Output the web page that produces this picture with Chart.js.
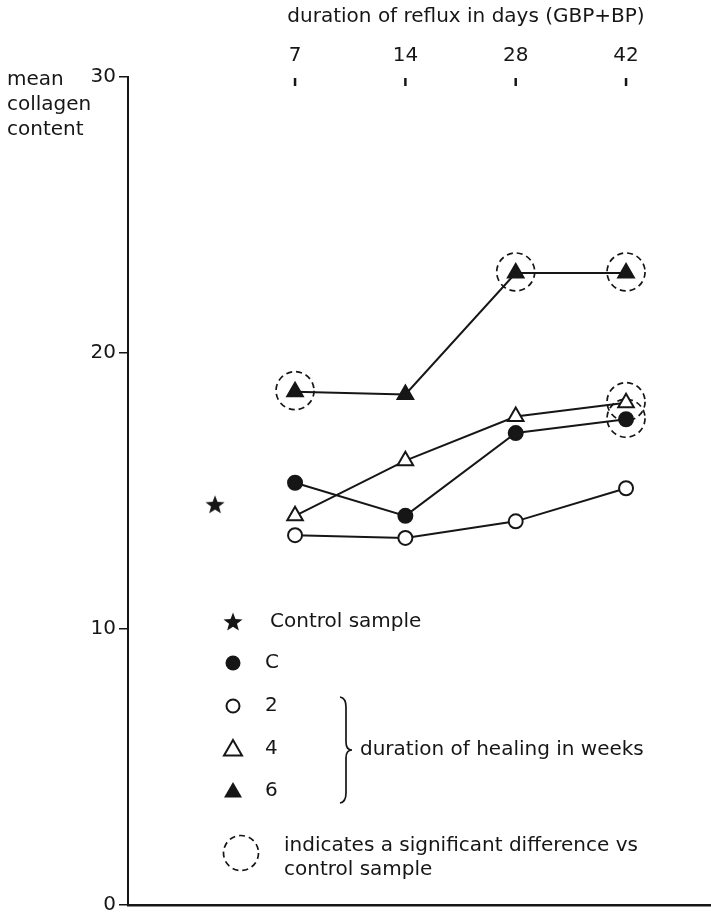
<!DOCTYPE html>
<html>
<head>
<meta charset="utf-8">
<script src="https://cdn.jsdelivr.net/npm/chart.js@4/dist/chart.umd.min.js"></script>
<style>
  html, body { margin: 0; padding: 0; background: #fff; }
  #wrap { width: 711px; height: 921px; }
</style>
</head>
<body>
<div id="wrap"><canvas id="collagenChart" width="711" height="921"></canvas></div>
<script>
// reflux duration (days) and where each sits on the x scale
const refluxDays = ['7', '14', '28', '42'];
const refluxPos = [1, 2, 3, 4];
const controlPos = 0.275;
const controlValue = 14.5;

// mean collagen content per healing group
const healingC = [15.3, 14.1, 17.1, 17.6];
const healing2 = [13.4, 13.3, 13.9, 15.1];
const healing4 = [14.1, 16.1, 17.7, 18.2];
const healing6 = [18.6, 18.5, 22.9, 22.9];

const yTicks = [0, 10, 20, 30];

// significant difference vs control: [series, index]
const significant = [['6', 0], ['6', 2], ['6', 3], ['4', 3], ['C', 3]];

const seriesByName = { C: healingC, '2': healing2, '4': healing4, '6': healing6 };

const FONT = '"DejaVu Sans", sans-serif';
const FSIZE = 20;
const INK = '#161616';

// little filled star for the control sample
const starImg = (() => {
    const c = document.createElement('canvas');
    c.width = 22; c.height = 22;
    const g = c.getContext('2d');
    g.fillStyle = INK;
    g.beginPath();
    for (let i = 0; i < 10; i++) {
        const r = i % 2 === 0 ? 10 : 4.2;
        const a = -Math.PI / 2 + i * Math.PI / 5;
        g.lineTo(11 + r * Math.cos(a), 11.5 + r * Math.sin(a));
    }
    g.closePath();
    g.fill();
    return c;
})();

const toPoints = arr => arr.map((v, i) => ({ x: refluxPos[i], y: v }));

const drawMarker = (ctx, kind, x, y) => {
    ctx.save();
    ctx.lineWidth = 2;
    ctx.strokeStyle = INK;
    ctx.fillStyle = INK;
    if (kind === 'star') {
        ctx.drawImage(starImg, x - 11, y - 11);
    } else if (kind === 'dot' || kind === 'ring') {
        ctx.beginPath();
        ctx.arc(x, y, kind === 'dot' ? 7.5 : 6.5, 0, Math.PI * 2);
        if (kind === 'dot') ctx.fill(); else { ctx.fillStyle = '#fff'; ctx.fill(); ctx.stroke(); }
    } else {
        ctx.beginPath();
        ctx.moveTo(x, y - 9);
        ctx.lineTo(x + 9, y + 6.5);
        ctx.lineTo(x - 9, y + 6.5);
        ctx.closePath();
        if (kind === 'tri') ctx.fill(); else { ctx.fillStyle = '#fff'; ctx.fill(); ctx.stroke(); }
    }
    ctx.restore();
};

const decorations = {
    id: 'decorations',
    beforeDatasetsDraw(chart) {
        const { ctx, scales: { x, y } } = chart;
        // dashed rings for significant points
        ctx.save();
        ctx.setLineDash([6, 4]);
        ctx.lineWidth = 1.7;
        ctx.strokeStyle = INK;
        significant.forEach(([name, i]) => {
            const px = x.getPixelForValue(refluxPos[i]);
            const py = y.getPixelForValue(seriesByName[name][i]);
            ctx.beginPath();
            ctx.arc(px, py - 1, 19, 0, Math.PI * 2);
            ctx.stroke();
        });
        ctx.restore();
    },
    afterDraw(chart) {
        const { ctx, scales: { x } } = chart;
        ctx.save();
        ctx.fillStyle = INK;
        ctx.strokeStyle = INK;
        ctx.font = FSIZE + 'px ' + FONT;
        ctx.textBaseline = 'middle';

        // top axis: reflux duration
        ctx.textAlign = 'center';
        ctx.fillText('duration of reflux in days (GBP+BP)', 466, 17);
        ctx.lineWidth = 2.5;
        refluxDays.forEach((lab, i) => {
            const px = x.getPixelForValue(refluxPos[i]);
            ctx.fillText(lab, px, 56);
            ctx.beginPath();
            ctx.moveTo(px, 78);
            ctx.lineTo(px, 86);
            ctx.stroke();
        });

        // y title
        ctx.textAlign = 'left';
        ['mean', 'collagen', 'content'].forEach((t, i) => ctx.fillText(t, 7, 80 + i * 25));

        // legend
        const rows = [
            ['star', 'Control sample', 622, 270],
            ['dot', 'C', 663, 265],
            ['ring', '2', 706, 265],
            ['otri', '4', 749, 265],
            ['tri', '6', 791, 265]
        ];
        rows.forEach(([kind, label, ry, tx]) => {
            drawMarker(ctx, kind, 233, ry);
            ctx.fillText(label, tx, ry);
        });

        // brace
        ctx.lineWidth = 1.7;
        ctx.beginPath();
        ctx.moveTo(340, 697);
        ctx.quadraticCurveTo(346, 698, 346, 707);
        ctx.lineTo(346, 742);
        ctx.quadraticCurveTo(346, 750, 352, 750);
        ctx.quadraticCurveTo(346, 750, 346, 758);
        ctx.lineTo(346, 793);
        ctx.quadraticCurveTo(346, 802, 340, 803);
        ctx.stroke();
        ctx.fillText('duration of healing in weeks', 360, 750);

        // significance key
        ctx.save();
        ctx.setLineDash([6, 4]);
        ctx.beginPath();
        ctx.arc(241, 853, 17.5, 0, Math.PI * 2);
        ctx.stroke();
        ctx.restore();
        ctx.fillText('indicates a significant difference vs', 284, 846);
        ctx.fillText('control sample', 284, 870);
        ctx.restore();
    }
};

const lineSet = (data, style, filled) => ({
    data: toPoints(data),
    showLine: true,
    borderColor: INK,
    borderWidth: 2,
    pointStyle: style,
    pointRadius: style === 'triangle' ? 9 : 7,
    pointBorderWidth: 2,
    pointBorderColor: INK,
    pointBackgroundColor: filled ? INK : '#fff'
});

new Chart(document.getElementById('collagenChart').getContext('2d'), {
    type: 'scatter',
    data: {
        datasets: [
            lineSet(healing2, 'circle', false),
            lineSet(healingC, 'circle', true),
            lineSet(healing4, 'triangle', false),
            lineSet(healing6, 'triangle', true),
            {
                data: [{ x: controlPos, y: controlValue }],
                pointStyle: starImg,
                pointRadius: 11
            }
        ]
    },
    options: {
        responsive: false,
        animation: false,
        layout: { autoPadding: false, padding: { left: 0, top: 77, right: 0, bottom: 16 } },
        plugins: { legend: { display: false }, tooltip: { enabled: false } },
        scales: {
            x: {
                type: 'linear',
                min: -0.514,
                max: 4.77,
                ticks: { display: false },
                grid: { display: false },
                border: { color: INK, width: 2.5 },
                afterFit: s => { s.height = 0; }
            },
            y: {
                min: 0,
                max: 30,
                afterBuildTicks: s => { s.ticks = yTicks.map(v => ({ value: v })); },
                ticks: { color: INK, font: { family: FONT, size: FSIZE }, padding: 3 },
                grid: { drawOnChartArea: false, tickLength: 9, color: INK, lineWidth: 1.5 },
                border: { color: INK, width: 2 },
                afterFit: s => { s.width = 128; }
            }
        }
    },
    plugins: [decorations]
});
</script>
</body>
</html>
